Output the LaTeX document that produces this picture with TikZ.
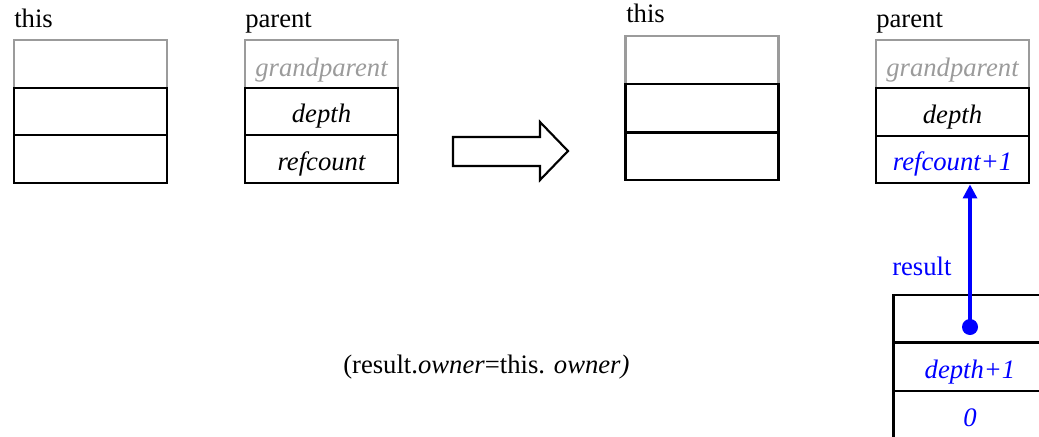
\documentclass[tikz,border=0pt]{standalone}
\usepackage{fontspec}
\setmainfont{Liberation Serif}
\newfontfamily\tms{Liberation Serif}
\usetikzlibrary{arrows.meta}
\definecolor{lgray}{RGB}{155,155,155}
\definecolor{pblue}{RGB}{0,0,255}
\begin{document}
\begin{tikzpicture}[x=0.75pt,y=-0.75pt,
  font=\tms\fontsize{20}{24}\selectfont,
  cell/.style={draw=black,line width=1.6pt,minimum width=114.75pt,minimum height=35.8pt,
    inner sep=0pt,text height=16.5pt,text depth=0pt,font=\tms\fontsize{20}{24}\selectfont\itshape},
  topcell/.style={cell,draw=lgray,text=lgray,text height=19pt},
  lbl/.style={anchor=base west,inner sep=0pt},
  ptr/.style={draw=pblue,line width=2.4pt,-{Triangle[width=10.5pt,length=10.5pt]}}]
\useasboundingbox (0,0) rectangle (1039,436);
% left "this"
\node[lbl] (lthis) at (14,27) {this};
\node[topcell] (a1) at (90.5,64) {};
\node[cell] (a2) at (90.5,111.5) {};
\node[cell] (a3) at (90.5,159) {};
% left "parent"
\node[lbl] (lpar) at (245,27) {parent};
\node[topcell] (b1) at (321.5,64) {grandparent};
\node[cell] (b2) at (321.5,111.5) {depth};
\node[cell] (b3) at (321.5,159) {refcount};
% transition arrow
\draw[line width=1.6pt,line join=miter] (453,137) -- (540,137) -- (540,122) -- (568,151) -- (540,180) -- (540,166) -- (453,166) -- cycle;
% right "this"
\node[lbl] (rthis) at (626,22) {this};
\node[topcell] (c1) at (702,60) {};
\node[cell] (c2) at (702,108) {};
\node[cell] (c3) at (702,156.5) {};
% right "parent"
\node[lbl] (rpar) at (876,27) {parent};
\node[topcell] (d1) at (952.5,64) {grandparent};
\node[cell] (d2) at (952.5,112) {depth};
\node[cell,text=pblue] (d3) at (952.5,159.5) {refcount+1};
% result
\node[lbl,text=pblue] (lres) at (892,275) {result};
\node[cell] (e1) at (970,318.5) {};
\node[cell,text=pblue] (e2) at (970,367) {depth+1};
\node[cell,text=pblue] (e3) at (970,415) {0};
\coordinate (dot) at (970,327);
\fill[pblue] (dot) circle[radius=6pt];
\draw[ptr] (dot) -- (dot |- d3.south);
% note
\node[lbl] (note) at (343,373) {(result.\textit{owner}=this. \textit{owner)}};
\end{tikzpicture}
\end{document}
